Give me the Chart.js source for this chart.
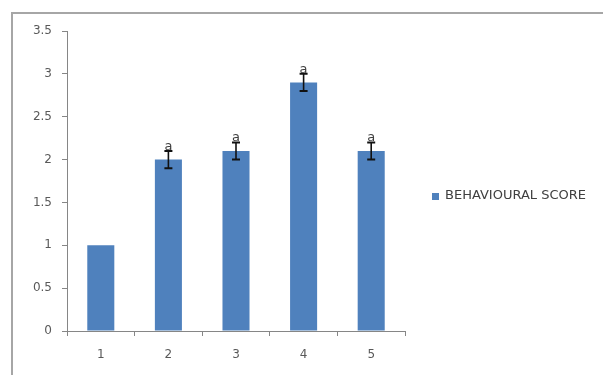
<!DOCTYPE html>
<html>
<head>
<meta charset="utf-8">
<script src="https://cdn.jsdelivr.net/npm/chart.js@4"></script>
<style>
  html, body { margin: 0; padding: 0; background: #fff; overflow: hidden; }
  canvas { display: block; }
</style>
</head>
<body>
<canvas id="c" width="603" height="375"></canvas>
<script>
// Groups and mean behavioural score with standard error
const categories = ['1', '2', '3', '4', '5'];
const scores = [1, 2, 2.1, 2.9, 2.1];
const errors = [null, 0.1, 0.1, 0.1, 0.1];
const letters = ['', 'a', 'a', 'a', 'a'];
const seriesName = 'BEHAVIOURAL SCORE';
const barColor = '#4F81BD';

const axisGrey = '#868686';
const labelGrey = '#595959';
const labelFont = { family: '"DejaVu Sans", sans-serif', size: 12 };

// Outer chart frame (left and top edges)
const framePlugin = {
  id: 'frame',
  beforeDraw(chart) {
    const ctx = chart.ctx;
    ctx.save();
    ctx.fillStyle = '#fff';
    ctx.fillRect(0, 0, chart.width, chart.height);
    ctx.strokeStyle = '#a6a6a6';
    ctx.lineWidth = 2;
    ctx.beginPath();
    ctx.moveTo(12, chart.height);
    ctx.lineTo(12, 13);
    ctx.lineTo(chart.width, 13);
    ctx.stroke();
    ctx.restore();
  }
};

// Error bars with significance letters on top
const errorBarPlugin = {
  id: 'errorBars',
  afterDatasetsDraw(chart) {
    const ctx = chart.ctx;
    const y = chart.scales.y;
    const meta = chart.getDatasetMeta(0);
    ctx.save();
    meta.data.forEach((bar, i) => {
      const e = errors[i];
      if (e == null) return;
      const v = scores[i];
      const top = y.getPixelForValue(v + e);
      const bot = y.getPixelForValue(v - e);
      const x = bar.x;
      ctx.strokeStyle = '#111';
      ctx.lineWidth = 1.6;
      ctx.beginPath();
      ctx.moveTo(x, top); ctx.lineTo(x, bot);
      ctx.stroke();
      ctx.lineWidth = 2;
      ctx.beginPath();
      ctx.moveTo(x - 4, top); ctx.lineTo(x + 4, top);
      ctx.moveTo(x - 4, bot); ctx.lineTo(x + 4, bot);
      ctx.stroke();
      if (letters[i]) {
        ctx.fillStyle = '#404040';
        ctx.font = '13px "DejaVu Sans", sans-serif';
        ctx.textAlign = 'center';
        ctx.textBaseline = 'alphabetic';
        ctx.fillText(letters[i], x, top - 1);
      }
    });
    ctx.restore();
  }
};

// Legend to the right of the plot
const sideLegendPlugin = {
  id: 'sideLegend',
  afterDraw(chart) {
    const ctx = chart.ctx;
    const area = chart.chartArea;
    const x0 = area.right + 27;
    const yc = 196;
    ctx.save();
    ctx.fillStyle = chart.data.datasets[0].backgroundColor;
    ctx.fillRect(x0, yc - 3, 7, 7);
    ctx.fillStyle = '#404040';
    ctx.font = '13px "DejaVu Sans", sans-serif';
    ctx.textAlign = 'left';
    ctx.textBaseline = 'middle';
    ctx.fillText(chart.data.datasets[0].label, x0 + 13, yc);
    ctx.restore();
  }
};

new Chart(document.getElementById('c'), {
  type: 'bar',
  data: {
    labels: categories,
    datasets: [{
      label: seriesName,
      data: scores,
      backgroundColor: barColor,
      borderWidth: 0,
      categoryPercentage: 1,
      barPercentage: 0.4
    }]
  },
  options: {
    responsive: false,
    animation: false,
    devicePixelRatio: 1,
    layout: { padding: { left: 0, top: 31, right: 198, bottom: 0 } },
    plugins: {
      legend: { display: false },
      tooltip: { enabled: false }
    },
    scales: {
      x: {
        afterFit(s) { s.height = 44; },
        grid: { drawOnChartArea: false, color: axisGrey, tickLength: 5, offset: true },
        border: { color: axisGrey, width: 1 },
        ticks: { color: labelGrey, padding: 12, font: labelFont }
      },
      y: {
        min: 0,
        max: 3.5,
        afterFit(s) { s.width = 67; },
        grid: { drawOnChartArea: false, color: axisGrey, tickLength: 5 },
        border: { color: axisGrey, width: 1 },
        ticks: {
          stepSize: 0.5,
          color: labelGrey,
          padding: 10,
          font: labelFont,
          callback: v => String(v)
        }
      }
    }
  },
  plugins: [framePlugin, errorBarPlugin, sideLegendPlugin]
});
</script>
</body>
</html>
